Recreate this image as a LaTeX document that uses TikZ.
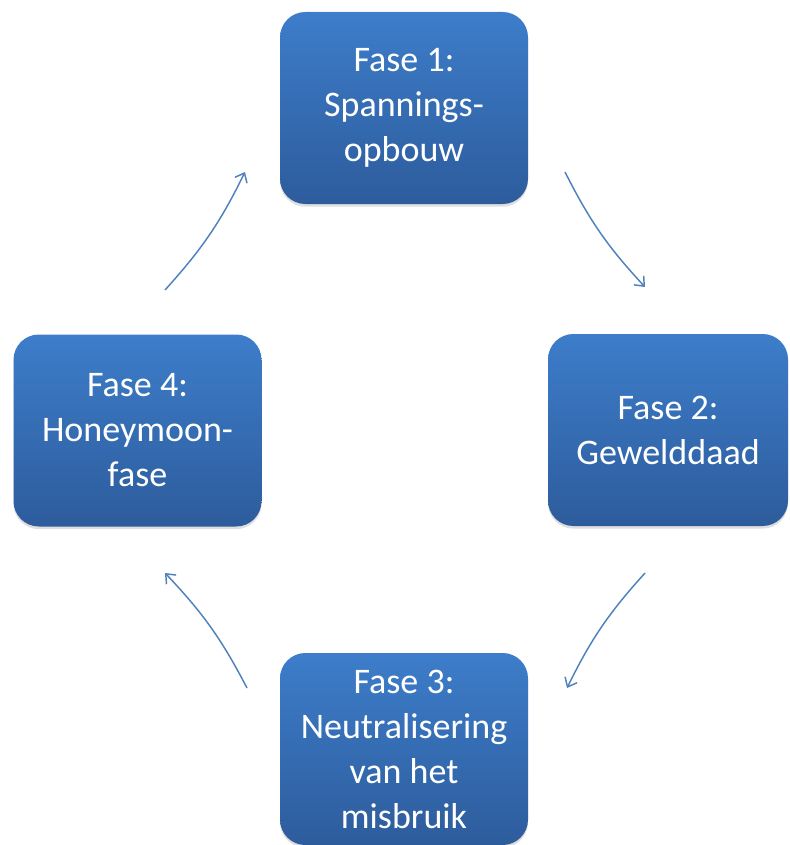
\documentclass[tikz,border=0pt]{standalone}
\usepackage{fontspec}
\setmainfont{Carlito}
\usetikzlibrary{arrows.meta,shadows}

\definecolor{fasetop}{HTML}{3D7DCA}
\definecolor{fasebot}{HTML}{2D5C9C}
\definecolor{pijl}{HTML}{4F81BD}

\tikzset{
  fase/.style={rounded corners=19pt, top color=fasetop, bottom color=fasebot,
    minimum width=186pt, minimum height=144pt, inner sep=0pt,
    text=white, align=center, font=\fontsize{27}{33.75}\selectfont,
    drop shadow={opacity=0.25, shadow xshift=0pt, shadow yshift=-2pt}},
  pijl/.style={-{Straight Barb[length=6pt,width=10pt]}, draw=pijl, line width=1.1pt, bend left=8}
}

\begin{document}
\begin{tikzpicture}[x=0.75pt,y=0.75pt,yscale=-1,xscale=1]
\useasboundingbox (0,0) rectangle (789,845);

% Fases
\node [fase] (fase1) at (404,108) {Fase 1:\\Spannings-\\opbouw};
\node [fase, minimum width=180pt] (fase2) at (668,430) {Fase 2:\\Gewelddaad};
\node [fase] (fase3) at (404,749) {Fase 3:\\Neutralisering\\van het\\misbruik};
\node [fase] (fase4) at (137.5,430.5) {Fase 4:\\Honeymoon-\\fase};

% Pijlen
\coordinate (p12a) at (565,172);
\coordinate (p12b) at (645,287);
\coordinate (p23a) at (645,573);
\coordinate (p23b) at (567,688);
\coordinate (p34a) at (247,688);
\coordinate (p34b) at (165,573);
\coordinate (p41a) at (165,290);
\coordinate (p41b) at (245,172);

\draw [pijl] (p12a) to (p12b);
\draw [pijl] (p23a) to (p23b);
\draw [pijl] (p34a) to (p34b);
\draw [pijl] (p41a) to (p41b);

\end{tikzpicture}
\end{document}
